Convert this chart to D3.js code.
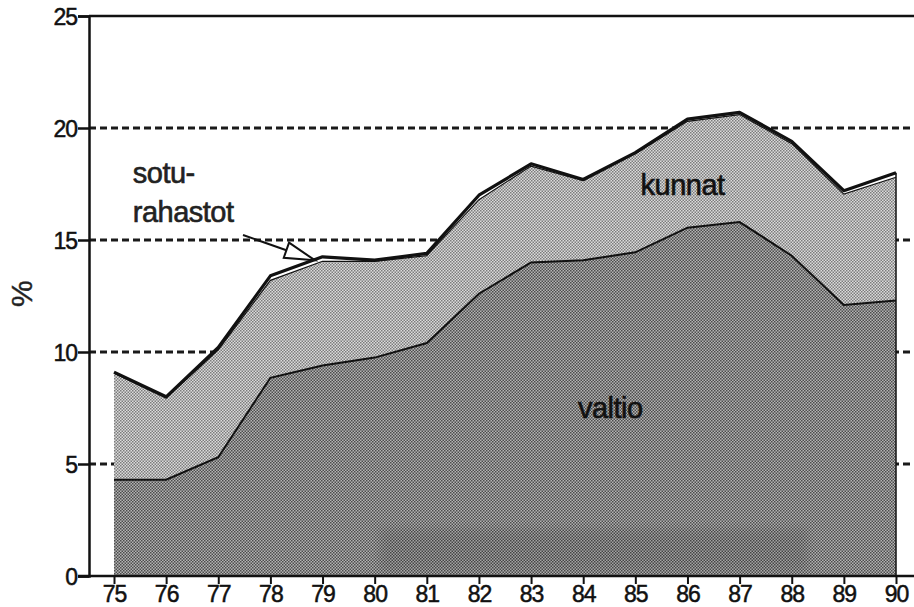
<!DOCTYPE html>
<html>
<head>
<meta charset="utf-8">
<script src="https://cdn.jsdelivr.net/npm/d3@7"></script>
<style>
  body { margin: 0; background: #fff; }
  svg { display: block; font-family: Arial, "Liberation Sans", Helvetica, sans-serif; }
</style>
</head>
<body>
<div id="chart"></div>
<script>
// vuodet 1975-1990, osuus %
var years = [75, 76, 77, 78, 79, 80, 81, 82, 83, 84, 85, 86, 87, 88, 89, 90];
var valtio = [4.3, 4.3, 5.3, 8.85, 9.4, 9.75, 10.4, 12.6, 14.0, 14.1, 14.45, 15.55, 15.8, 14.3, 12.1, 12.3];
var kunnat = [4.75, 3.65, 4.8, 4.35, 4.65, 4.3, 3.9, 4.2, 4.3, 3.55, 4.4, 4.75, 4.8, 5.0, 4.95, 5.5];
var sotu = [0.05, 0.05, 0.1, 0.2, 0.2, 0.05, 0.1, 0.2, 0.1, 0.05, 0.05, 0.1, 0.1, 0.1, 0.15, 0.2];
var yTicks = [0, 5, 10, 15, 20, 25];
var gridTicks = [5, 10, 15, 20];

var width = 914;
var height = 607;

var rows = years.map(function (yr, i) {
    return { year: yr, valtio: valtio[i], kunnat: kunnat[i], sotu: sotu[i] };
});

var x = d3.scaleLinear().domain([75, 90]).range([114, 896]);
var y = d3.scaleLinear().domain([0, 25]).range([576, 16]);

var svg = d3.select('#chart')
    .append('svg')
    .attr('width', width)
    .attr('height', height);

// rasterikuviot (skannatun kuvan pisteraster)
var defs = svg.append('defs');
function checker(id, light, dark) {
    var p = defs.append('pattern')
        .attr('id', id)
        .attr('patternUnits', 'userSpaceOnUse')
        .attr('width', 3)
        .attr('height', 3);
    p.append('rect').attr('width', 3).attr('height', 3).attr('fill', light);
    p.append('rect').attr('width', 1.5).attr('height', 1.5).attr('fill', dark);
    p.append('rect').attr('x', 1.5).attr('y', 1.5).attr('width', 1.5).attr('height', 1.5).attr('fill', dark);
}
checker('patValtio', '#b4b4b4', '#4c4c4c');
checker('patKunnat', '#dcdcdc', '#7c7c7c');

defs.append('filter')
    .attr('id', 'blur')
    .attr('x', '-10%').attr('y', '-30%')
    .attr('width', '120%').attr('height', '160%')
    .append('feGaussianBlur')
    .attr('stdDeviation', 4);

// katkoviivat
svg.selectAll('.grid')
    .data(gridTicks)
    .enter()
    .append('line')
    .attr('class', 'grid')
    .attr('x1', x(75) - 25)
    .attr('x2', width)
    .attr('y1', function (d) { return y(d); })
    .attr('y2', function (d) { return y(d); })
    .attr('stroke', '#1a1a1a')
    .attr('stroke-width', 2.8)
    .attr('stroke-dasharray', '7,4');

var stack = d3.stack().keys(['valtio', 'kunnat', 'sotu']);
var series = stack(rows);

var area = d3.area()
    .x(function (d) { return x(d.data.year); })
    .y0(function (d) { return y(d[0]); })
    .y1(function (d) { return y(d[1]); });

var fills = { valtio: 'url(#patValtio)', kunnat: 'url(#patKunnat)', sotu: '#fff' };

svg.selectAll('.layer')
    .data(series)
    .enter()
    .append('path')
    .attr('class', 'layer')
    .attr('d', area)
    .attr('fill', function (d) { return fills[d.key]; })
    .attr('stroke', 'none');

// skannauksen tummempi läikkä alareunassa
svg.append('rect')
    .attr('x', x(80.1))
    .attr('y', y(2.1))
    .attr('width', x(88.3) - x(80.1))
    .attr('height', y(0.2) - y(2.1))
    .attr('fill', '#000')
    .attr('opacity', 0.09)
    .attr('filter', 'url(#blur)');

var line = d3.line()
    .x(function (d) { return x(d.data.year); })
    .y(function (d) { return y(d[1]); });

// valtio / kunnat raja
svg.append('path')
    .attr('d', line(series[0]))
    .attr('fill', 'none')
    .attr('stroke', '#111')
    .attr('stroke-width', 2);

// kunnat yläraja
svg.append('path')
    .attr('d', line(series[1]))
    .attr('fill', 'none')
    .attr('stroke', '#111')
    .attr('stroke-width', 1.2);

// kokonaisuus
svg.append('path')
    .attr('d', line(series[2]))
    .attr('fill', 'none')
    .attr('stroke', '#111')
    .attr('stroke-width', 3.2)
    .attr('stroke-linejoin', 'round');

// oikea reuna
svg.append('line')
    .attr('x1', x(90)).attr('x2', x(90))
    .attr('y1', y(0)).attr('y2', y(sotu[15] + kunnat[15] + valtio[15]))
    .attr('stroke', '#111')
    .attr('stroke-width', 1.5);

// y-akseli
var yAxis = d3.axisLeft(y)
    .tickValues(yTicks)
    .tickSize(11)
    .tickPadding(1)
    .tickFormat(d3.format('d'));

var gy = svg.append('g')
    .attr('transform', 'translate(89,0)')
    .call(yAxis);
gy.select('.domain').attr('stroke', '#111').attr('stroke-width', 2.5);
gy.selectAll('.tick line').attr('stroke', '#111').attr('stroke-width', 2.5);
gy.selectAll('.tick text')
    .attr('fill', '#111')
    .attr('stroke', '#111')
    .attr('stroke-width', 0.5)
    .style('font-size', '23px')
    .style('letter-spacing', '-1px')
    .attr('dy', '0.36em');

// yläreuna
svg.append('line')
    .attr('x1', 89).attr('x2', width)
    .attr('y1', y(25)).attr('y2', y(25))
    .attr('stroke', '#111')
    .attr('stroke-width', 2.5);

// x-akseli
svg.append('line')
    .attr('x1', 78).attr('x2', width)
    .attr('y1', y(0)).attr('y2', y(0))
    .attr('stroke', '#111')
    .attr('stroke-width', 2.5);

var xAxis = d3.axisBottom(x)
    .tickValues(years)
    .tickSize(8)
    .tickPadding(2)
    .tickFormat(d3.format('d'));

var gx = svg.append('g')
    .attr('transform', 'translate(0,' + y(0) + ')')
    .call(xAxis);
gx.select('.domain').remove();
gx.selectAll('.tick line').attr('stroke', '#111').attr('stroke-width', 2);
gx.selectAll('.tick text')
    .attr('fill', '#111')
    .attr('stroke', '#111')
    .attr('stroke-width', 0.5)
    .style('font-size', '23px')
    .style('letter-spacing', '-1px');

// akselin otsikko
svg.append('text')
    .attr('transform', 'translate(32,' + y(12.6) + ') rotate(-90)')
    .attr('text-anchor', 'middle')
    .style('font-size', '30px')
    .attr('fill', '#222')
    .attr('stroke', '#222')
    .attr('stroke-width', 0.4)
    .text('%');

// nimiöt
function label(txt, xv, yv, col) {
    svg.append('text')
        .attr('x', x(xv))
        .attr('y', y(yv))
        .style('font-size', '29px')
        .style('letter-spacing', '-0.5px')
        .attr('fill', col)
        .attr('stroke', col)
        .attr('stroke-width', 0.6)
        .text(txt);
}
label('kunnat', 85.1, 17.0, '#111');
label('valtio', 83.9, 7.05, '#111');
label('sotu-', 75.36, 17.55, '#222');
label('rahastot', 75.36, 15.8, '#222');

// nuoli sotu-rahastoihin
var ax0 = 243, ay0 = 235;
var ax1 = x(78.85), ay1 = y(14.1);
var ang = Math.atan2(ay1 - ay0, ax1 - ax0);
var headLen = 30, headW = 8;
var bx = ax1 - headLen * Math.cos(ang), by = ay1 - headLen * Math.sin(ang);
svg.append('line')
    .attr('x1', ax0).attr('y1', ay0)
    .attr('x2', bx).attr('y2', by)
    .attr('stroke', '#111')
    .attr('stroke-width', 2);
svg.append('path')
    .attr('d', 'M' + ax1 + ',' + ay1 +
        'L' + (bx + headW * Math.sin(ang)) + ',' + (by - headW * Math.cos(ang)) +
        'L' + (bx - headW * Math.sin(ang)) + ',' + (by + headW * Math.cos(ang)) + 'Z')
    .attr('fill', '#fff')
    .attr('stroke', '#111')
    .attr('stroke-width', 2)
    .attr('stroke-linejoin', 'miter');
</script>
</body>
</html>
